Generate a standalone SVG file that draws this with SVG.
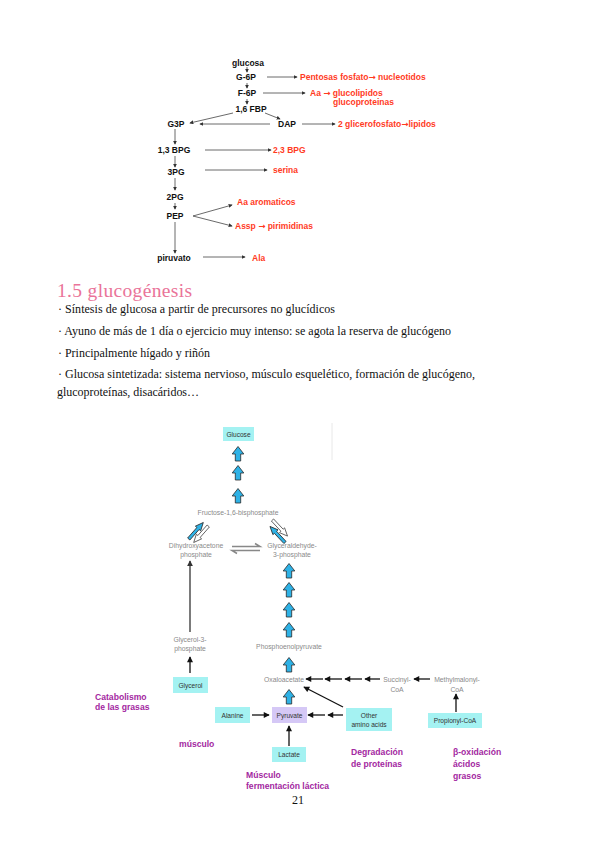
<svg xmlns="http://www.w3.org/2000/svg" width="599" height="848" viewBox="0 0 599 848">
<style>
.t{font-family:"Liberation Sans",Arial,sans-serif;font-weight:bold;font-size:8.5px;fill:#111}
.r{font-family:"Liberation Sans",Arial,sans-serif;font-weight:bold;font-size:8.5px;fill:#ff3b1f}
.ar{font-family:"DejaVu Sans",sans-serif;font-weight:bold}
.ln{stroke:#444;stroke-width:0.8;fill:none;marker-end:url(#ah)}
.body{font-family:"Liberation Serif","Times New Roman",serif;font-size:12px;fill:#111}
.g{font-family:"Liberation Sans",Arial,sans-serif;font-size:6.8px;fill:#8a8a8a;text-anchor:middle}
.bt{font-family:"Liberation Sans",Arial,sans-serif;font-size:6.6px;fill:#333;text-anchor:middle}
.m{font-family:"Liberation Sans",Arial,sans-serif;font-weight:bold;font-size:8.6px;fill:#a3279f}
.cy{fill:#a4f2f2}
.ba{fill:#2eb2e6;stroke:#2a2a2a;stroke-width:0.8}
.wa{fill:#fff;stroke:#333;stroke-width:0.7}
.bk{stroke:#111;stroke-width:1.3;fill:none;marker-end:url(#bh)}
</style>
<defs>
<marker id="ah" viewBox="0 0 6 6" refX="5" refY="3" markerWidth="4" markerHeight="4" markerUnits="userSpaceOnUse" orient="auto"><path d="M0,0 L6,3 L0,6 Z" fill="#333"/></marker>
<marker id="bh" viewBox="0 0 8 8" refX="7" refY="4" markerWidth="7" markerHeight="6" markerUnits="userSpaceOnUse" orient="auto"><path d="M0,0 L8,4 L0,8 Z" fill="#111"/></marker>
<marker id="gh" viewBox="0 0 8 8" refX="7" refY="4" markerWidth="6" markerHeight="6" markerUnits="userSpaceOnUse" orient="auto"><path d="M0,0 L8,4 L0,8 Z" fill="#333"/></marker>
<path id="up" d="M-2.7,0 H2.7 V-7 H5.8 L0,-14.5 L-5.8,-7 H-2.7 Z"/>
<path id="thin" d="M0,-1.5 H14 V-3.5 L22,0 L14,3.5 V1.5 H0 Z"/>
</defs>

<!-- top diagram -->
<g id="top-connectors">
<line class="ln" x1="247" y1="67" x2="247" y2="72"/>
<line class="ln" x1="267" y1="77" x2="297" y2="77"/>
<line class="ln" x1="247" y1="83" x2="247" y2="88"/>
<line class="ln" x1="263" y1="93" x2="305" y2="93"/>
<line class="ln" x1="247" y1="99" x2="247" y2="104"/>
<line class="ln" x1="233" y1="113" x2="190" y2="123"/>
<line class="ln" x1="265" y1="113" x2="280" y2="119"/>
<line class="ln" x1="270" y1="124" x2="200" y2="124"/>
<line class="ln" x1="302" y1="124" x2="335" y2="124"/>
<line class="ln" x1="175" y1="129" x2="175" y2="144"/>
<line class="ln" x1="205" y1="150" x2="271" y2="150"/>
<line class="ln" x1="175" y1="156" x2="175" y2="167"/>
<line class="ln" x1="205" y1="170" x2="267" y2="170"/>
<line class="ln" x1="175" y1="178" x2="175" y2="190"/>
<line class="ln" x1="175" y1="203" x2="175" y2="209"/>
<line class="ln" x1="193" y1="216" x2="232" y2="205"/>
<line class="ln" x1="193" y1="216" x2="232" y2="226"/>
<line class="ln" x1="175" y1="222" x2="175" y2="253"/>
<line class="ln" x1="203" y1="257" x2="245" y2="257"/>
</g>
<g id="n-glucosa"><text class="t" x="248" y="66" text-anchor="middle">glucosa</text></g>
<g id="n-g6p"><text class="t" x="246" y="80" text-anchor="middle">G-6P</text></g>
<g id="n-pentosas"><text class="r" x="300" y="80">Pentosas fosfato<tspan class="ar">→</tspan> nucleotidos</text></g>
<g id="n-f6p"><text class="t" x="247" y="96" text-anchor="middle">F-6P</text></g>
<g id="n-aa"><text class="r" x="310" y="96">Aa <tspan class="ar">→</tspan> glucolipidos</text><text class="r" x="333" y="105">glucoproteinas</text></g>
<g id="n-fbp"><text class="t" x="251" y="112" text-anchor="middle">1,6 FBP</text></g>
<g id="n-g3p"><text class="t" x="176" y="127" text-anchor="middle">G3P</text></g>
<g id="n-dap"><text class="t" x="287" y="127" text-anchor="middle">DAP</text></g>
<g id="n-glicerofosfato"><text class="r" x="338" y="127">2 glicerofosfato<tspan class="ar">→</tspan>lipidos</text></g>
<g id="n-13bpg"><text class="t" x="174" y="153" text-anchor="middle">1,3 BPG</text></g>
<g id="n-23bpg"><text class="r" x="273" y="153">2,3 BPG</text></g>
<g id="n-3pg"><text class="t" x="176" y="175" text-anchor="middle">3PG</text></g>
<g id="n-serina"><text class="r" x="273" y="173">serina</text></g>
<g id="n-2pg"><text class="t" x="175" y="200" text-anchor="middle">2PG</text></g>
<g id="n-pep"><text class="t" x="175" y="219" text-anchor="middle">PEP</text></g>
<g id="n-aromaticos"><text class="r" x="237" y="205">Aa aromaticos</text></g>
<g id="n-assp"><text class="r" x="235" y="229">Assp <tspan class="ar">→</tspan> pirimidinas</text></g>
<g id="n-piruvato"><text class="t" x="174" y="261" text-anchor="middle">piruvato</text></g>
<g id="n-ala"><text class="r" x="252" y="261">Ala</text></g>

<!-- text block -->
<g id="textblock">
<text x="57" y="297" font-family="'Liberation Serif','Times New Roman',serif" font-size="19.5px" fill="#ea7499" textLength="135">1.5 glucogénesis</text>
<text class="body" x="58" y="313" textLength="277">· Síntesis de glucosa a partir de precursores no glucídicos</text>
<text class="body" x="58" y="335" textLength="393">· Ayuno de más de 1 día o ejercicio muy intenso: se agota la reserva de glucógeno</text>
<text class="body" x="58" y="357" textLength="152">· Principalmente hígado y riñón</text>
<text class="body" x="58" y="378" textLength="417">· Glucosa sintetizada: sistema nervioso, músculo esquelético, formación de glucógeno,</text>
<text class="body" x="57" y="396" textLength="142">glucoproteínas, disacáridos…</text>
</g>

<!-- bottom figure -->
<line x1="332" y1="423" x2="332" y2="460" stroke="#e2e2e2" stroke-width="0.8"/>
<g id="connectors">
<use href="#up" class="ba" transform="translate(238,461)"/>
<use href="#up" class="ba" transform="translate(238,480)"/>
<use href="#up" class="ba" transform="translate(238,503)"/>
<use href="#up" class="ba" transform="translate(289,578)"/>
<use href="#up" class="ba" transform="translate(289,597)"/>
<use href="#up" class="ba" transform="translate(289,617)"/>
<use href="#up" class="ba" transform="translate(289,637)"/>
<use href="#up" class="ba" transform="translate(289,672)"/>
<use href="#up" class="ba" transform="translate(289,704)"/>
<!-- DHAP <-> F1,6BP -->
<use href="#thin" class="ba" transform="translate(188.75,539) rotate(-48.6)"/>
<use href="#thin" class="wa" transform="translate(208.25,526) rotate(131.4)"/>
<!-- G3P <-> F1,6BP -->
<use href="#thin" class="ba" transform="translate(285,542.5) rotate(-133)"/>
<use href="#thin" class="wa" transform="translate(272.5,520) rotate(47)"/>
<!-- DHAP <=> G3P -->
<path d="M232,546.5 H260 L255,543.5" fill="none" stroke="#888" stroke-width="1.5"/>
<path d="M260,550.5 H232 L237,553.5" fill="none" stroke="#888" stroke-width="1.5"/>
<!-- Glycerol-3-P to DHAP -->
<line x1="190" y1="632" x2="190" y2="561" stroke="#333" stroke-width="1.3" marker-end="url(#gh)"/>
<line class="bk" x1="190" y1="673" x2="190" y2="657"/>
<!-- Alanine to Pyruvate -->
<line class="bk" x1="252" y1="715" x2="269" y2="715"/>
<!-- Lactate to Pyruvate -->
<line class="bk" x1="289" y1="746" x2="289" y2="726"/>
<!-- other amino acids to pyruvate -->
<line class="bk" x1="325" y1="715" x2="308" y2="715"/>
<line class="bk" x1="343" y1="715" x2="328" y2="715"/>
<!-- other amino acids to oxaloacetate -->
<line class="bk" x1="343" y1="707" x2="304" y2="687"/>
<!-- succinyl chain -->
<line class="bk" x1="323" y1="679" x2="306" y2="679"/>
<line class="bk" x1="342" y1="679" x2="325" y2="679"/>
<line class="bk" x1="362" y1="679" x2="345" y2="679"/>
<line class="bk" x1="380" y1="679" x2="365" y2="679"/>
<line class="bk" x1="430" y1="679" x2="414" y2="679"/>
<!-- propionyl to methylmalonyl -->
<line class="bk" x1="456" y1="712" x2="456" y2="694"/>
</g>
<g id="glucose"><rect class="cy" x="223" y="427" width="31" height="14"/><text class="bt" x="238.5" y="436.5">Glucose</text></g>
<g id="f16bp"><text class="g" x="238" y="515">Fructose-1,6-bisphosphate</text></g>
<g id="dhap"><text class="g" x="196" y="548">Dihydroxyacetone</text><text class="g" x="196" y="557">phosphate</text></g>
<g id="gap"><text class="g" x="292" y="548">Glyceraldehyde-</text><text class="g" x="292" y="557">3-phosphate</text></g>
<g id="g3p"><text class="g" x="190" y="642">Glycerol-3-</text><text class="g" x="190" y="651">phosphate</text></g>
<g id="pep"><text class="g" x="289" y="649">Phosphoenolpyruvate</text></g>
<g id="oaa"><text class="g" x="284" y="682">Oxaloacetate</text></g>
<g id="succ"><text class="g" x="397" y="682">Succinyl-</text><text class="g" x="397" y="692">CoA</text></g>
<g id="mmcoa"><text class="g" x="457" y="682">Methylmalonyl-</text><text class="g" x="457" y="692">CoA</text></g>
<g id="glycerol"><rect class="cy" x="173" y="677" width="35" height="16"/><text class="bt" x="190.5" y="687.5">Glycerol</text></g>
<g id="alanine"><rect class="cy" x="215" y="707" width="35" height="16"/><text class="bt" x="232.5" y="717.5">Alanine</text></g>
<g id="pyruvate"><rect x="272" y="707" width="35" height="16" fill="#d5c8f6"/><text class="bt" x="289.5" y="717.5">Pyruvate</text></g>
<g id="lactate"><rect class="cy" x="272" y="747" width="34" height="15"/><text class="bt" x="289" y="757">Lactate</text></g>
<g id="other"><rect class="cy" x="346" y="708" width="46" height="23"/><text class="bt" x="369" y="717.5">Other</text><text class="bt" x="369" y="726.5">amino acids</text></g>
<g id="propionyl"><rect class="cy" x="428" y="713" width="54" height="15"/><text class="bt" x="455" y="723">Propionyl-CoA</text></g>

<g id="labels">
<text class="m" x="95" y="700">Catabolismo</text>
<text class="m" x="95" y="710">de las grasas</text>
<text class="m" x="179" y="747">músculo</text>
<text class="m" x="246" y="778">Músculo</text>
<text class="m" x="246" y="789">fermentación láctica</text>
<text class="m" x="351" y="755">Degradación</text>
<text class="m" x="351" y="767">de proteínas</text>
<text class="m" x="453" y="755">β-oxidación</text>
<text class="m" x="453" y="767">ácidos</text>
<text class="m" x="453" y="779">grasos</text>
</g>
<text x="298" y="804" font-family="'Liberation Serif','Times New Roman',serif" font-size="12px" fill="#111" text-anchor="middle">21</text>
</svg>
